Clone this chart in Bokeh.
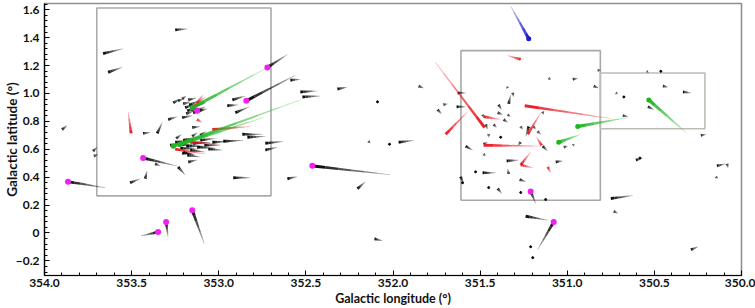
import numpy as np
from bokeh.plotting import figure
from bokeh.models import ColumnDataSource, Range1d, SingleIntervalTicker, CustomJSTickFormatter
from bokeh.embed import file_html
from bokeh.resources import INLINE

# ---- proper-motion vectors: start position (l, b) in deg and displacement (dl, db) in deg ----
black_l = [353.664, 353.635, 353.250, 353.899, 353.434, 353.353, 353.290, 353.210, 353.152, 353.261,
           352.922, 352.951, 352.905, 352.589, 352.974, 352.865, 352.836, 352.733, 352.733, 353.721,
           353.716, 353.509, 353.422, 353.365, 353.175, 353.210, 352.917, 352.606, 353.233, 352.532,
           352.520, 352.319, 351.853, 351.744, 351.710, 351.629, 351.635, 352.141, 351.968, 351.583,
           352.204, 352.106, 351.486, 351.336, 351.612, 351.106, 350.968, 350.848, 350.825, 351.342,
           351.336, 351.313, 351.394, 351.399, 351.342, 351.365, 351.422, 351.486, 351.468, 351.267,
           351.193, 351.170, 351.141, 351.480, 351.348, 351.273, 351.399, 351.066, 351.020, 350.968,
           351.480, 351.451, 351.267, 351.221, 351.141, 350.537, 350.721, 350.451, 350.336, 350.537,
           350.681, 350.233, 350.606, 350.141, 350.083, 350.147, 350.750, 350.733, 350.290, 351.239,
           # upper clump near (353.17, 0.90)
           353.193, 353.181, 353.170, 353.158, 353.187, 353.147, 353.204, 353.135, 353.175, 353.112,
           353.210, 353.233,
           # lower clump near (353.17, 0.63)
           353.250, 353.233, 353.221, 353.204, 353.187, 353.164, 353.147, 353.124, 353.106, 353.083,
           353.060, 353.204, 353.244, 353.106, 353.037, 353.279, 353.152, 353.181]
black_b = [1.286, 1.152, 1.456, 0.742, 0.714, 0.714, 0.813, 0.827, 0.756, 0.933,
           0.954, 0.912, 0.862, 1.095, 0.657, 0.707, 0.686, 0.643, 0.594, 0.587,
           0.551, 0.360, 0.389, 0.495, 0.509, 0.572, 0.396, 0.389, 0.473, 1.011,
           0.975, 1.032, 1.053, 0.883, 0.919, 1.004, 0.905, 0.657, 0.650, 0.622,
           0.318, -0.042, 0.431, 0.424, 0.403, 1.110, 1.102, 1.053, 1.166, 1.039,
           0.926, 1.004, 0.919, 0.862, 0.848, 0.813, 0.777, 0.848, 0.777, 0.763,
           0.763, 0.728, 0.869, 0.565, 0.516, 0.382, 0.318, 0.509, 0.615, 0.629,
           0.636, 0.707, 0.650, 0.763, 0.622, 1.159, 1.004, 1.053, 1.011, 0.905,
           0.841, 0.700, 0.523, 0.481, 0.495, 0.403, 0.247, 0.155, -0.120, 0.120,
           0.898, 0.876, 0.919, 0.883, 0.855, 0.862, 0.926, 0.912, 0.954, 0.876,
           0.961, 0.947,
           0.650, 0.629, 0.608, 0.664, 0.622, 0.594, 0.643, 0.615, 0.664, 0.629,
           0.601, 0.580, 0.678, 0.700, 0.650, 0.629, 0.693, 0.558]
black_dl = [-0.115, -0.080, -0.069, -0.029, -0.040, -0.029, -0.052, -0.057, -0.046, -0.040,
            -0.075, -0.063, -0.080, -0.057, -0.115, -0.115, -0.103, -0.103, -0.069, -0.023,
            -0.023, -0.057, -0.011, -0.029, -0.052, -0.063, -0.098, -0.057, -0.040, -0.098,
            -0.103, -0.057, -0.029, -0.023, -0.023, -0.046, -0.052, -0.011, -0.086, -0.040,
            -0.046, -0.046, -0.075, 0.006, -0.017, -0.011, -0.029, -0.029, -0.017, 0.006,
            -0.011, -0.006, -0.017, -0.029, -0.017, -0.023, -0.017, -0.006, -0.011, -0.011,
            -0.011, -0.017, -0.006, -0.011, -0.069, -0.034, -0.023, -0.040, -0.023, -0.011,
            -0.023, 0.000, 0.017, 0.017, -0.029, 0.011, -0.011, -0.029, -0.046, -0.034,
            -0.029, -0.029, -0.040, -0.046, -0.006, -0.011, -0.126, -0.023, -0.040, -0.126,
            -0.057, -0.057, -0.057, -0.057, -0.046, -0.057, -0.040, -0.063, -0.046, -0.046,
            -0.023, -0.029,
            -0.086, -0.098, -0.103, -0.075, -0.109, -0.086, -0.098, -0.103, -0.086, -0.092,
            -0.080, -0.069, -0.029, -0.034, -0.092, -0.046, -0.029, -0.075]
black_db = [0.035, 0.035, 0.007, 0.028, 0.007, 0.078, 0.021, 0.014, 0.007, 0.028,
            0.028, 0.007, 0.042, 0.007, 0.007, 0.000, 0.007, 0.014, 0.021, 0.028,
            0.014, 0.028, 0.057, -0.014, 0.014, -0.007, 0.000, 0.014, -0.057, 0.007,
            0.007, 0.014, -0.014, -0.028, 0.007, 0.000, 0.000, -0.014, 0.014, -0.028,
            0.049, -0.014, 0.000, 0.035, -0.049, -0.014, 0.007, -0.014, 0.000, 0.014,
            0.064, -0.028, -0.035, -0.014, -0.014, -0.021, -0.021, -0.021, -0.035, -0.021,
            -0.021, -0.021, -0.021, -0.014, 0.007, -0.014, -0.035, 0.007, 0.007, 0.007,
            0.014, -0.021, -0.021, -0.071, -0.035, -0.007, -0.007, -0.007, -0.007, -0.021,
            -0.007, 0.007, 0.014, 0.014, -0.028, -0.014, 0.021, -0.014, 0.021, -0.028,
            0.028, 0.028, 0.028, 0.014, 0.021, 0.021, 0.014, 0.021, 0.014, 0.014,
            0.021, 0.014,
            0.014, 0.007, -0.007, 0.021, 0.000, -0.014, 0.007, -0.007, 0.014, 0.000,
            -0.007, -0.021, 0.028, 0.028, 0.007, 0.014, 0.028, -0.014]

# stars flagged with a magenta marker
marked_l = [353.865, 353.434, 353.302, 353.348, 353.152, 352.463, 351.210, 351.078, 352.721, 352.842, 353.124]
marked_b = [0.367, 0.537, 0.078, 0.007, 0.163, 0.481, 0.297, 0.078, 1.187, 0.947, 0.876]
marked_dl = [-0.213, -0.195, -0.011, 0.098, -0.069, -0.448, -0.029, 0.092, -0.115, -0.282, -0.046]
marked_db = [-0.042, -0.057, -0.106, -0.028, -0.240, -0.064, -0.085, -0.198, 0.092, 0.184, 0.028]

red_l = [351.474, 351.698, 351.267, 351.244, 351.480, 351.227, 351.480, 351.147, 351.267, 351.267,
         351.112, 353.503, 353.037, 353.146, 353.124, 353.164, 353.250, 353.124]
red_b = [0.756, 0.707, 1.244, 0.912, 0.834, 0.707, 0.629, 0.629, 0.488, 0.488,
         0.473, 0.714, 0.742, 0.905, 0.813, 0.650, 0.601, 0.933]
red_dl = [0.282, -0.126, 0.075, -0.494, -0.098, -0.075, -0.328, 0.029, -0.057, -0.069,
          -0.017, 0.017, -0.218, -0.069, -0.029, -0.172, -0.172, -0.034]
red_db = [0.466, 0.163, 0.028, -0.092, -0.021, 0.155, -0.007, 0.057, 0.092, -0.021,
          -0.042, 0.155, 0.021, 0.071, -0.021, -0.014, -0.035, 0.057]

green_l = [353.152, 353.261, 353.221, 350.940, 351.049, 350.532]
green_b = [0.898, 0.622, 0.636, 0.763, 0.650, 0.954]
green_dl = [-0.425, -0.730, -0.477, -0.287, -0.126, -0.213]
green_db = [0.283, 0.332, 0.191, 0.064, 0.057, -0.233]

blue_l = [351.221]
blue_b = [1.392]
blue_dl = [0.103]
blue_db = [0.233]

# stars without a measurable displacement
still_l = [352.089, 352.020, 351.526, 351.451, 351.267, 351.124, 351.601, 350.463, 350.675, 350.583,
           351.210, 351.198, 351.382]
still_b = [0.940, 0.636, 0.438, 0.325, 0.290, 0.240, 0.360, 1.159, 0.975, 0.537,
           -0.099, -0.177, 0.686]

# outlined fields
box_l_east = [353.70, 351.61, 350.81]
box_l_west = [352.70, 350.81, 350.21]
box_b_low = [0.266, 0.235, 0.747]
box_b_high = [1.613, 1.307, 1.147]

# ---- figure geometry ----
W, H = 755, 308
BL, BR, BT, BB = 44, 14, 3, 30
L_MAX, L_MIN = 354.0, 350.0
B_MIN, B_MAX = -0.305, 1.645
PX_X = (W - BL - BR) / (L_MAX - L_MIN)
PX_Y = (H - BT - BB) / (B_MAX - B_MIN)


def tapered(ls, bs, dls, dbs, width, color, pieces=6, a_start=1.0, a_end=0.25):
    """Split each vector into trapezoids narrowing from `width` px at the start to a hairline at the tip."""
    xs, ys, alphas = [], [], []
    for l0, b0, dl, db in zip(ls, bs, dls, dbs):
        dx, dy = -dl * PX_X, db * PX_Y          # screen-pixel displacement
        length = np.hypot(dx, dy)
        if length == 0:
            continue
        ux, uy = dx / length, dy / length
        nx, ny = -uy, ux
        for k in range(pieces):
            t0, t1 = k / pieces, (k + 1) / pieces
            h0 = 0.5 * width * (1 - t0) + 0.3
            h1 = 0.5 * width * (1 - t1) + 0.3
            pts = [(t0 * dx + nx * h0, t0 * dy + ny * h0),
                   (t1 * dx + nx * h1, t1 * dy + ny * h1),
                   (t1 * dx - nx * h1, t1 * dy - ny * h1),
                   (t0 * dx - nx * h0, t0 * dy - ny * h0)]
            xs.append([l0 - px / PX_X for px, _ in pts])
            ys.append([b0 + py / PX_Y for _, py in pts])
            alphas.append(a_start + (a_end - a_start) * (k + 0.5) / pieces)
    return ColumnDataSource(dict(xs=xs, ys=ys, alpha=alphas, color=[color] * len(xs)))


p = figure(width=W, height=H, x_range=Range1d(L_MAX, L_MIN), y_range=Range1d(B_MIN, B_MAX),
           output_backend="svg", toolbar_location=None,
           min_border_left=BL, min_border_right=BR, min_border_top=BT, min_border_bottom=BB)
p.grid.visible = False
p.background_fill_color = "white"
p.border_fill_color = "white"
p.outline_line_color = "#8f8f8f"
p.outline_line_width = 1.6

# field boxes
p.quad(left=box_l_east, right=box_l_west, bottom=box_b_low, top=box_b_high,
       fill_color=None, line_color=["#ababab", "#a8a8a8", "#bdbcb4"], line_width=1.6)

# vectors
for src in (tapered(black_l, black_b, black_dl, black_db, 2.4, "#000000"),
            tapered(marked_l, marked_b, marked_dl, marked_db, 2.6, "#000000"),
            tapered(red_l, red_b, red_dl, red_db, 2.4, "#e8141c"),
            tapered(green_l, green_b, green_dl, green_db, 3.0, "#1fb51f"),
            tapered(blue_l, blue_b, blue_dl, blue_db, 2.8, "#1a1ad0")):
    p.patches("xs", "ys", source=src, fill_color="color", fill_alpha="alpha", line_color=None)

p.scatter(still_l, still_b, size=2.0, color="black")
p.scatter(green_l, green_b, size=5.0, color="#1fb51f", line_color=None)
p.scatter(blue_l, blue_b, size=5.0, color="#1a1ad0", line_color=None)
p.scatter(marked_l, marked_b, size=6.0, color="#f020f0", line_color=None)

# axes
p.xaxis.ticker = SingleIntervalTicker(interval=0.5, num_minor_ticks=5)
p.yaxis.ticker = SingleIntervalTicker(interval=0.2, num_minor_ticks=5)
p.xaxis.formatter = CustomJSTickFormatter(code="return tick.toFixed(1);")
p.yaxis.formatter = CustomJSTickFormatter(
    code="if (Math.abs(tick) < 1e-9) return '0'; return tick < 0 ? '\u2212' + Math.abs(tick).toFixed(1) : tick.toFixed(1);")
p.xaxis.axis_label = "Galactic longitude (°)"
p.yaxis.axis_label = "Galactic latitude (°)"
for ax in (p.xaxis, p.yaxis):
    ax.major_tick_in = 5
    ax.major_tick_out = 0
    ax.minor_tick_in = 3
    ax.minor_tick_out = 0
    ax.axis_line_color = "black"
    ax.axis_line_width = 1.2
    ax.major_tick_line_color = "black"
    ax.minor_tick_line_color = "black"
    ax.major_label_text_font = "Lato"
    ax.major_label_text_font_style = "bold"
    ax.major_label_text_font_size = "12px"
    ax.major_label_text_color = "#111111"
    ax.axis_label_text_font = "Lato"
    ax.axis_label_text_font_style = "bold"
    ax.axis_label_text_color = "#111111"
p.xaxis.axis_label_text_font_size = "12.5px"
p.yaxis.axis_label_text_font_size = "13.5px"
p.xaxis.major_label_standoff = 3
p.xaxis.axis_label_standoff = 1
p.yaxis.major_label_standoff = 5
p.yaxis.axis_label_standoff = -7

open("out.html", "w").write(file_html(p, INLINE))
